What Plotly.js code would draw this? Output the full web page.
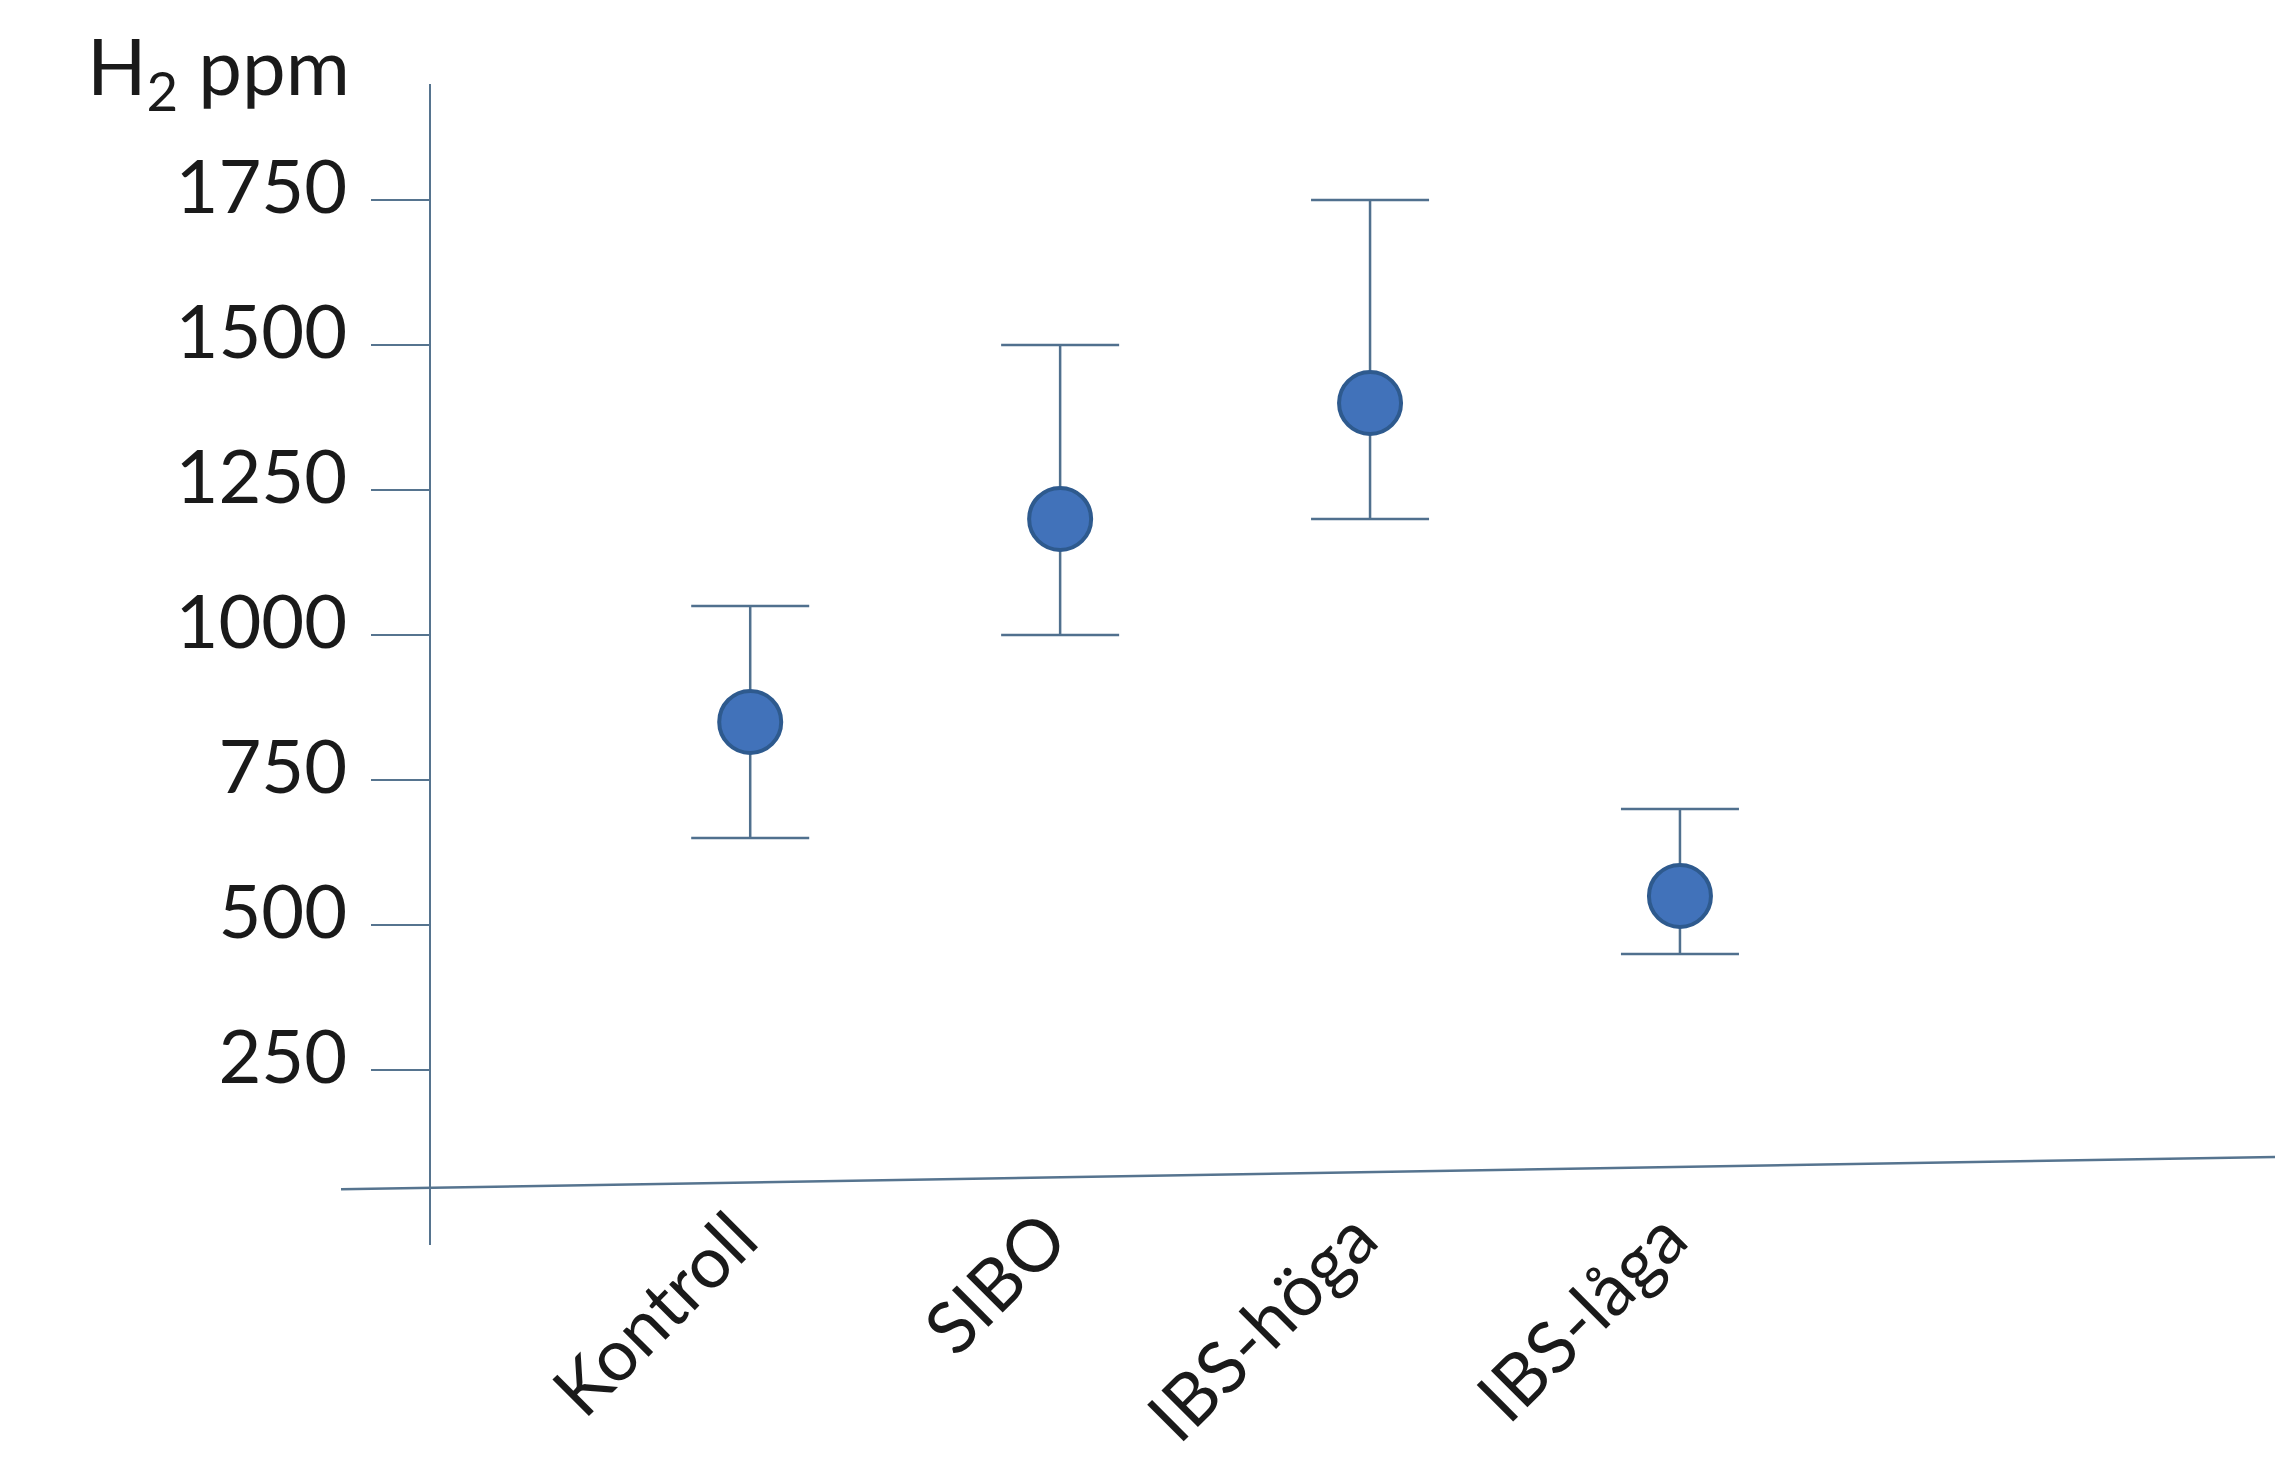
<!DOCTYPE html>
<html>
<head>
<meta charset="utf-8">
<script src="https://cdn.plot.ly/plotly-3.0.1.min.js"></script>
<style>
  html, body { margin: 0; padding: 0; background: #ffffff; }
  #chart { width: 2275px; height: 1466px; }
</style>
</head>
<body>
<div id="chart"></div>
<script>
// ---- data ----
const categories = ["Kontroll", "SIBO", "IBS-höga", "IBS-låga"];
const meanValues = [850, 1200, 1400, 550];
const upperError = [200, 300, 350, 150];   // mean -> top of bar
const lowerError = [200, 200, 200, 100];   // mean -> bottom of bar
const yTickValues = [250, 500, 750, 1000, 1250, 1500, 1750];
const yTickLabels = ["250", "500", "750", "1000", "1250", "1500", "1750"];
const yAxisLabel = "H<sub>2</sub> ppm";

// ---- styles ----
const axisColor = "#56748F";
const fontFamily = "Lato, 'Open Sans', sans-serif";
const textColor = "#1a1a1a";

const trace = {
  type: "scatter",
  mode: "markers",
  x: categories,
  y: meanValues,
  marker: {
    size: 62,
    color: "#4172BA",
    line: { color: "#2E5A8E", width: 4 }
  },
  error_y: {
    type: "data",
    symmetric: false,
    array: upperError,
    arrayminus: lowerError,
    color: "#50708E",
    thickness: 2.5,
    width: 59
  },
  hoverinfo: "x+y",
  showlegend: false
};

const layout = {
  width: 2275,
  height: 1466,
  paper_bgcolor: "#ffffff",
  plot_bgcolor: "#ffffff",
  margin: { l: 431, r: 0, t: 84, b: 221, pad: 0 },
  font: { family: fontFamily, color: textColor, size: 74 },
  xaxis: {
    type: "category",
    range: [-1.03, 4.92],
    showline: false,
    showgrid: false,
    zeroline: false,
    ticks: "",
    tickangle: -45,
    ticklabelstandoff: -64,
    ticklabelshift: -14,
    tickfont: { family: fontFamily, size: 72, color: textColor },
    automargin: false,
    fixedrange: true
  },
  yaxis: {
    range: [-52, 1950],
    tickmode: "array",
    tickvals: yTickValues,
    ticktext: yTickLabels,
    showline: true,
    linecolor: axisColor,
    linewidth: 2,
    ticks: "outside",
    ticklen: 58,
    tickwidth: 2,
    tickcolor: axisColor,
    ticklabelstandoff: 9,
    ticklabelshift: -13,
    showgrid: false,
    zeroline: false,
    tickfont: { family: fontFamily, size: 74, color: textColor },
    automargin: false,
    fixedrange: true
  },
  shapes: [
    {
      type: "line",
      xref: "paper", yref: "paper",
      x0: -0.0488, y0: 0.048,
      x1: 1, y1: 0.0758,
      line: { color: axisColor, width: 2.5 },
      layer: "below"
    }
  ],
  annotations: [
    {
      text: yAxisLabel,
      xref: "paper", yref: "paper",
      x: -0.043, y: 1.012,
      xanchor: "right", yanchor: "middle",
      showarrow: false,
      font: { family: fontFamily, size: 78, color: textColor }
    }
  ]
};

Plotly.newPlot("chart", [trace], layout, { displayModeBar: false, staticPlot: true });
</script>
</body>
</html>
